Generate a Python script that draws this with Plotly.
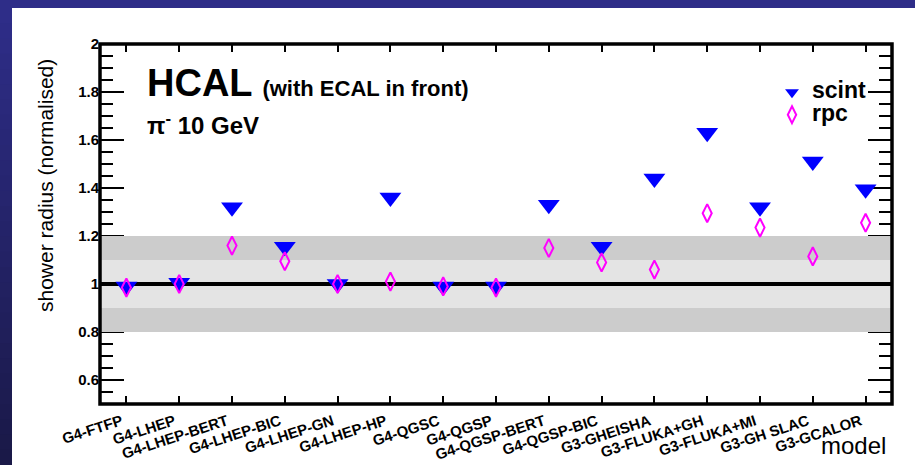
import plotly.graph_objects as go

# ---------------- data ----------------
models = ["G4-FTFP", "G4-LHEP", "G4-LHEP-BERT", "G4-LHEP-BIC", "G4-LHEP-GN",
          "G4-LHEP-HP", "G4-QGSC", "G4-QGSP", "G4-QGSP-BERT", "G4-QGSP-BIC",
          "G3-GHEISHA", "G3-FLUKA+GH", "G3-FLUKA+MI", "G3-GH SLAC", "G3-GCALOR"]
scint = [0.99, 1.005, 1.32, 1.155, 1.0, 1.36, 0.99, 0.99, 1.33, 1.155,
         1.44, 1.63, 1.32, 1.51, 1.395]
rpc = [0.985, 1.0, 1.16, 1.095, 1.0, 1.01, 0.99, 0.985, 1.15, 1.09,
       1.06, 1.295, 1.235, 1.115, 1.255]
y_tickvals = [0.6, 0.8, 1, 1.2, 1.4, 1.6, 1.8, 2]
y_ticktext = ["0.6", "0.8", "1", "1.2", "1.4", "1.6", "1.8", "2"]
band_outer = [0.8, 1.2]
band_inner = [0.9, 1.1]
reference = 1.0

# ---------------- geometry ----------------
W, H = 915, 465
ML, MR, MT, MB = 100, 23, 44, 61
PW, PH = W - ML - MR, H - MT - MB
FONT = "Liberation Sans, Arial, sans-serif"

x = list(range(len(models)))
xr = [-0.5, len(models) - 0.5]


def px_x(p):
    return (p - ML) / PW


def px_y(p):
    return (H - MB - p) / PH


fig = go.Figure()

# bands
for band, col in ((band_outer, "#cccccc"), (band_inner, "#e4e4e4")):
    fig.add_trace(go.Scatter(x=[xr[0], xr[1], xr[1], xr[0], xr[0]],
                             y=[band[0], band[0], band[1], band[1], band[0]],
                             fill="toself", fillcolor=col, mode="lines",
                             line=dict(width=0), hoverinfo="skip",
                             showlegend=False))
# reference line
fig.add_trace(go.Scatter(x=xr, y=[reference, reference], mode="lines",
                         line=dict(color="black", width=4), hoverinfo="skip",
                         showlegend=False))

fig.add_trace(go.Scatter(x=x, y=scint, mode="markers",
                         name="<b><span style='font-size:23px'>scint</span></b>",
                         marker=dict(symbol="triangle-down", size=19,
                                     color="#0000ff", line=dict(width=0))))
fig.add_trace(go.Scatter(x=x, y=rpc, mode="markers",
                         name="<b><span style='font-size:23px'>rpc</span></b>",
                         marker=dict(symbol="diamond-tall-open", size=13,
                                     color="#ff00ff",
                                     line=dict(width=2, color="#ff00ff"))))

shapes = []
# top navy strip
shapes.append(dict(type="rect", xref="paper", yref="paper",
                   x0=px_x(-5), x1=px_x(W + 5), y0=px_y(8), y1=px_y(-5),
                   line=dict(width=0), fillcolor="rgb(46,45,136)", layer="below"))
# left navy strip with vertical gradient (stacked, no gaps)
n = 30
top_c = (46, 45, 136)
bot_c = (26, 25, 72)
for i in range(n):
    t = i / (n - 1)
    c = tuple(int(round(top_c[k] + (bot_c[k] - top_c[k]) * t)) for k in range(3))
    shapes.append(dict(type="rect", xref="paper", yref="paper",
                       x0=px_x(-5), x1=px_x(12),
                       y0=px_y(H + 5), y1=px_y(8 + (H - 8) * i / n),
                       line=dict(width=0), fillcolor="rgb(%d,%d,%d)" % c,
                       layer="below"))
# frame
shapes.append(dict(type="rect", xref="paper", yref="paper", x0=0, x1=1, y0=0, y1=1,
                   line=dict(color="black", width=3.5), layer="above"))

annotations = [
    dict(text="<b>HCAL </b><span style='font-size:22px'><b>(with ECAL in front)</b></span>",
         x=px_x(145), y=px_y(83), xref="paper", yref="paper",
         xanchor="left", yanchor="middle", showarrow=False,
         font=dict(size=38, color="black", family=FONT)),
    dict(text="<b>π<sup>-</sup> 10 GeV</b>",
         x=px_x(145), y=px_y(124), xref="paper", yref="paper",
         xanchor="left", yanchor="middle", showarrow=False,
         font=dict(size=24, color="black", family=FONT)),
    dict(text="shower radius (normalised)", textangle=-90,
         x=px_x(45), y=px_y(186), xref="paper", yref="paper",
         xanchor="center", yanchor="middle", showarrow=False,
         font=dict(size=21, color="black", family=FONT)),
    dict(text="model",
         x=px_x(888), y=px_y(445), xref="paper", yref="paper",
         xanchor="right", yanchor="middle", showarrow=False,
         font=dict(size=24, color="black", family=FONT)),
]

fig.update_layout(
    width=W, height=H,
    margin=dict(l=ML, r=MR, t=MT, b=MB, pad=0, autoexpand=False),
    paper_bgcolor="white", plot_bgcolor="white",
    font=dict(family=FONT, color="black"),
    shapes=shapes, annotations=annotations,
    showlegend=True,
    legend=dict(x=px_x(772), y=px_y(76), xanchor="left", yanchor="top",
                bgcolor="rgba(0,0,0,0)", borderwidth=0,
                font=dict(size=15, family=FONT, color="black"),
                itemsizing="constant"),
    xaxis=dict(range=xr, tickmode="array", tickvals=x, ticktext=models,
               tickangle=-18, ticks="inside", ticklen=8, tickwidth=2,
               tickcolor="black", mirror="ticks", showline=False,
               showgrid=False, zeroline=False, layer="below traces",
               automargin=False,
               ticklabelshift=-5, ticklabelstandoff=5,
               tickfont=dict(size=15, family=FONT, color="black", weight="bold")),
    yaxis=dict(range=[0.5, 2], tickmode="array", tickvals=y_tickvals,
               ticktext=y_ticktext, ticks="inside", ticklen=24, tickwidth=2,
               tickcolor="black", mirror="ticks", showline=False,
               showgrid=False, zeroline=False, layer="below traces",
               automargin=False,
               minor=dict(dtick=0.05, ticks="inside", ticklen=13, tickwidth=2,
                          tickcolor="black", showgrid=False),
               tickfont=dict(size=15, family=FONT, color="black", weight="bold")),
)

fig.write_html("out.html",
               config={"displayModeBar": False},
               post_script="document.body.style.margin='0';"
                           "document.body.style.overflow='hidden';")
